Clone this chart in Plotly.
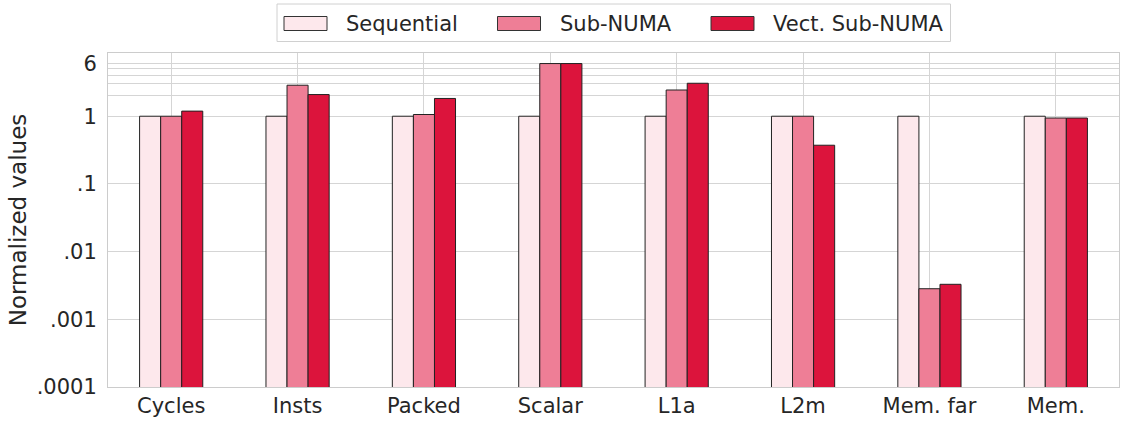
import plotly.graph_objects as go

categories = ["Cycles", "Insts", "Packed", "Scalar", "L1a", "L2m", "Mem. far", "Mem."]
sequential = [1, 1, 1, 1, 1, 1, 1, 1]
sub_numa = [1.0, 2.87, 1.06, 6.0, 2.44, 1.0, 0.00283, 0.94]
vect_sub_numa = [1.19, 2.09, 1.83, 6.0, 3.07, 0.373, 0.00329, 0.94]
tick_vals = [0.0001, 0.001, 0.01, 0.1, 1, 2, 3, 4, 5, 6]
tick_text = [".0001", ".001", ".01", ".1", "1", "", "", "", "", "6"]
series_names = ["Sequential", "Sub-NUMA", "Vect. Sub-NUMA"]
series_colors = ["#fde8ec", "#ee7e96", "#dc143c"]
series_values = [sequential, sub_numa, vect_sub_numa]

W, H = 1121, 421
ML, MR, MT, MB = 108, 2, 53, 34
PW, PH = W - ML - MR, H - MT - MB
EDGE = "#222222"
font = "DejaVu Sans, sans-serif"


def px_x(x):
    return (x - ML) / PW


def px_y(y):
    return (H - MB - y) / PH


fig = go.Figure()
for name, vals, col in zip(series_names, series_values, series_colors):
    fig.add_trace(go.Bar(
        x=categories, y=vals, name=name, showlegend=False,
        marker=dict(color=col, line=dict(color=EDGE, width=1)),
    ))

# legend drawn as in the reference (wide rectangular patches)
shapes = [dict(type="rect", xref="paper", yref="paper",
               x0=px_x(277), x1=px_x(950.5), y0=px_y(41.5), y1=px_y(4),
               line=dict(color="#d0d0d0", width=1), fillcolor="white", layer="above")]
annotations = []
leg_start = 284
pitch = 213.5
for i, (name, col) in enumerate(zip(series_names, series_colors)):
    x0 = leg_start + i * pitch
    shapes.append(dict(type="rect", xref="paper", yref="paper",
                       x0=px_x(x0), x1=px_x(x0 + 43), y0=px_y(30.5), y1=px_y(16.5),
                       line=dict(color="#333333", width=1), fillcolor=col, layer="above"))
    annotations.append(dict(xref="paper", yref="paper", x=px_x(x0 + 60), y=px_y(23.5),
                            xanchor="left", yanchor="middle", text=name, showarrow=False,
                            font=dict(size=21, family=font, color="#262626")))

fig.update_layout(
    width=W, height=H,
    barmode="group", bargap=0.5, bargroupgap=0,
    plot_bgcolor="white", paper_bgcolor="white",
    font=dict(family=font, size=21, color="#262626"),
    margin=dict(l=ML, r=MR, t=MT, b=MB),
    showlegend=False,
    shapes=shapes, annotations=annotations,
    xaxis=dict(
        showgrid=True, gridcolor="#d5d5d5", gridwidth=1,
        showline=True, linecolor="#cccccc", mirror=True,
        ticks="", tickfont=dict(size=21),
    ),
    yaxis=dict(
        type="log", range=[-4, 0.934],
        tickvals=tick_vals, ticktext=tick_text,
        showgrid=True, gridcolor="#d5d5d5", gridwidth=1,
        showline=True, linecolor="#cccccc", mirror=True,
        ticks="", tickfont=dict(size=21), ticklabelstandoff=6,
        title=dict(text="Normalized values", font=dict(size=23), standoff=3),
        zeroline=False,
    ),
)
fig.write_html("out.html", config={"displayModeBar": False},
               post_script="document.body.style.margin='0';document.body.style.padding='0';")
